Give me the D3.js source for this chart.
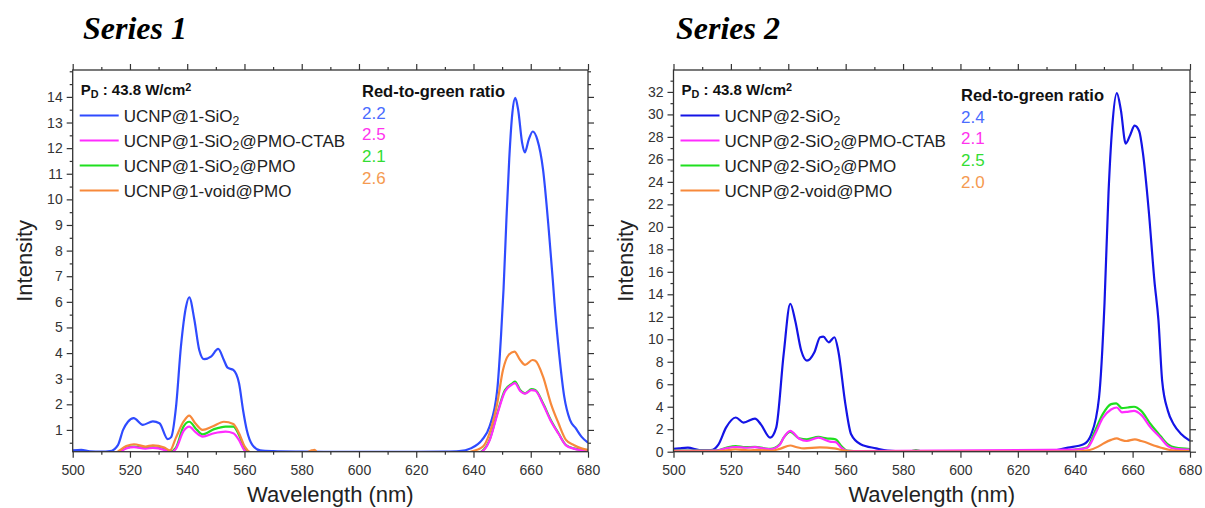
<!DOCTYPE html>
<html><head><meta charset="utf-8">
<script src="https://cdn.jsdelivr.net/npm/d3@7"></script>
<style>
body{margin:0;background:#fff;}
svg{display:block;font-family:"Liberation Sans",Arial,sans-serif;}
</style></head>
<body><svg id="c" width="1205" height="508"></svg>
<script>
// ---------------- DATA ----------------
const xTicks = [500,520,540,560,580,600,620,640,660,680];
const titles = ["Series 1","Series 2"];
const seriesColorsL = ["#2f4bff","#ff2cff","#1fdf1f","#f7893b"];
const seriesColorsR = ["#1414e6","#ff2cff","#1fdf1f","#f7893b"];
const ratioColors = ["#4a6cff","#ff33ee","#33dd33","#f59a50"];

const labels1 = ["UCNP@1-SiO_2","UCNP@1-SiO_2@PMO-CTAB","UCNP@1-SiO_2@PMO","UCNP@1-void@PMO"];
const labels2 = ["UCNP@2-SiO_2","UCNP@2-SiO_2@PMO-CTAB","UCNP@2-SiO_2@PMO","UCNP@2-void@PMO"];
const ratios1 = ["2.2","2.5","2.1","2.6"];
const ratios2 = ["2.4","2.1","2.5","2.0"];
const yTicks1 = [1,2,3,4,5,6,7,8,9,10,11,12,13,14];
const yTicks2 = [0,2,4,6,8,10,12,14,16,18,20,22,24,26,28,30,32];

// Series 1 spectra
const blue1X = [500,503,506,510,513,515.8,517.6,519.3,521.3,524.5,528,530.3,533.2,534.4,536.1,537.8,539.6,540.7,542.5,544.2,545.9,548.3,550.8,552.8,554.1,556.1,558.1,559.5,560.8,562.8,565.5,570,580,590,600,610,620,630,635,639,643,645.6,648.3,649.6,650.5,651.5,652.5,653.6,654.6,655.6,657,657.9,659.3,660.7,662.3,664.3,666.3,667.7,668.3,669.9,671.7,673.7,675.7,677.7,680];
const blue1Y = [0.2,0.22,0.16,0.15,0.17,0.41,1.0,1.32,1.46,1.2,1.33,1.26,0.64,0.72,1.91,4.25,5.82,6.18,5.3,4.12,3.76,3.86,4.16,3.73,3.43,3.34,2.82,1.78,1.0,0.41,0.2,0.17,0.15,0.14,0.14,0.14,0.14,0.15,0.17,0.28,0.61,1.13,2.56,4.64,6.5,9.2,11.6,13.4,13.96,13.5,12.2,11.83,12.33,12.65,12.33,11.16,8.8,6.86,5.95,4.0,2.3,1.39,1.07,0.74,0.5];
const mag1X = [500,515,518.7,521.4,525.4,528,532,534,536,538.7,540.7,543,545.4,549.4,553.4,556.1,558.1,560,562,565,640,643.3,645.6,648.3,651,653.6,654.5,656.3,658,660.3,661.6,664.3,667,669.7,672.3,675,680];
const mag1Y = [0.05,0.06,0.28,0.33,0.27,0.3,0.22,0.12,0.25,0.95,1.13,0.9,0.74,0.87,0.93,0.87,0.6,0.2,0.08,0.05,0.05,0.18,0.58,1.6,2.5,2.78,2.83,2.52,2.42,2.55,2.53,2.0,1.35,0.85,0.4,0.27,0.18];
const green1X = [500,515,518.7,521.4,525.4,528,532,534,536,538.7,540.7,543.4,545.4,549.4,553.4,556.1,558.1,560.1,562,565,640,643.3,645.6,648.3,651,653.6,654.5,656.3,658,660.3,661.6,664.3,667,669.7,672.3,675,680];
const green1Y = [0.05,0.08,0.3,0.35,0.3,0.32,0.25,0.15,0.3,1.13,1.32,1.0,0.83,1.03,1.13,1.13,0.8,0.25,0.1,0.05,0.05,0.2,0.61,1.65,2.56,2.82,2.89,2.56,2.43,2.59,2.56,2.04,1.39,0.87,0.41,0.28,0.2];
const orange1X = [500,510,514.7,518.7,521.4,525.4,528,532,534,536,538.7,540.7,542.8,545.4,548.8,552.8,556.1,558.1,560.1,562.1,565,580,583.5,584.5,586,600,620,635,639,643.3,645.6,648.3,650.3,652.3,654.3,656.3,658,660.6,661.6,664.3,667,669.7,672.3,675,677.7,680];
const orange1Y = [0.05,0.05,0.1,0.37,0.44,0.35,0.4,0.31,0.2,0.68,1.32,1.56,1.26,1.0,1.13,1.32,1.23,0.87,0.35,0.12,0.05,0.05,0.2,0.22,0.05,0.05,0.05,0.1,0.15,0.35,0.87,2.04,3.34,3.93,4.06,3.73,3.54,3.73,3.7,3.08,2.04,1.26,0.61,0.41,0.28,0.22];

// Series 2 spectra
const blue2X = [500,502,505,509,513,515.7,518.3,521.7,524.4,528.4,530.4,533.7,535.8,538.4,540.7,542.4,544.5,546.5,549.1,551.1,552.2,554.1,556.1,557.4,559.9,561.9,565.2,570.6,574.6,580,600,620,630.8,637.5,642.9,645.6,648.3,650.2,651.6,652.9,654.5,655.9,657.6,659.2,660.7,662.3,663.6,665.6,667.6,669,670.3,672.3,674.3,677,680];
const blue2Y = [0.25,0.3,0.36,0.15,0.15,0.66,2.14,3.04,2.59,2.95,2.45,1.25,2.14,8.7,13.16,11.67,9.0,8.1,8.85,10.18,10.23,9.73,10.18,9.0,4.23,1.55,0.66,0.3,0.1,0.05,0.05,0.05,0.05,0.36,0.66,1.55,4.82,13.16,23.0,28.9,31.9,30.4,27.4,28.2,29.0,28.5,26.55,21.5,15.2,11.7,6.3,3.63,2.44,1.55,0.96];
const mag2X = [500,515,518.3,521.7,525,528.4,531.7,533.7,537,538.4,540.7,543.8,546.5,550.5,554.5,556.5,558.5,560.5,565,640.2,644.2,646.9,649.6,652.5,654.5,656.3,658.3,660.5,663,666.3,669.7,672.3,675,680];
const mag2Y = [0.08,0.1,0.3,0.42,0.35,0.4,0.28,0.22,0.6,1.25,1.85,1.15,0.95,1.25,0.9,0.85,0.35,0.08,0.05,0.18,0.35,1.55,3.0,3.75,3.93,3.5,3.55,3.63,3.27,2.14,1.25,0.5,0.25,0.18];
const green2X = [500,515,518.3,521.7,525,528.4,531.7,533.7,537,538.4,540.7,543.8,546.5,550.5,553.2,556.5,558.5,560.5,565,583,584.5,586,600,634.8,640.2,644.2,646.9,649.6,652.5,654.3,656.3,658.3,660.5,663,666.3,669.7,672.3,675,680];
const green2Y = [0.1,0.12,0.35,0.5,0.4,0.43,0.3,0.25,0.66,1.25,1.76,1.19,1.1,1.31,1.19,1.1,0.5,0.1,0.05,0.05,0.15,0.05,0.05,0.05,0.2,0.4,1.85,3.34,4.23,4.3,3.87,3.93,4.0,3.63,2.44,1.4,0.66,0.36,0.24];
const orange2X = [500,515,518,521.5,526,530,534,537,540.7,543,545.5,551,556,558.5,561,565,640,645,648,650,652.5,654.5,656,657.8,660.8,663,665,668,670,673,675,680];
const orange2Y = [0.02,0.03,0.1,0.2,0.12,0.15,0.08,0.25,0.55,0.4,0.3,0.38,0.3,0.15,0.04,0.02,0.02,0.15,0.45,0.75,1.05,1.19,1.05,0.95,1.1,0.95,0.8,0.5,0.35,0.15,0.1,0.05];

// ---------------- DRAW ----------------
const svg = d3.select("#c");
const zipXY = (xs, ys) => xs.map((x,i)=>({x, y: ys[i]}));

const panels = [
  {title: titles[0], tx: 83, left: 72.7, right: 588, top: 70, bottom: 451.7,
   yDomain: [0.15, 15.05], yTicks: yTicks1, yMinorStep: 0.5,
   colors: seriesColorsL, labels: labels1, ratios: ratios1,
   series: [[blue1X,blue1Y],[mag1X,mag1Y],[green1X,green1Y],[orange1X,orange1Y]],
   ratioX: 362, ratioY0: 97},
  {title: titles[1], tx: 676, left: 673.5, right: 1190, top: 70, bottom: 451.7,
   yDomain: [0, 33.95], yTicks: yTicks2, yMinorStep: 1,
   colors: seriesColorsR, labels: labels2, ratios: ratios2,
   series: [[blue2X,blue2Y],[mag2X,mag2Y],[green2X,green2Y],[orange2X,orange2Y]],
   ratioX: 961, ratioY0: 101}
];

function addSubText(sel, str) {
  const parts = str.split(/_(\d)/);
  parts.forEach((p,i)=>{
    if (!p) return;
    if (i % 2 === 1) sel.append("tspan").attr("baseline-shift","-25%").attr("font-size","0.72em").text(p);
    else sel.append("tspan").text(p);
  });
}

panels.forEach((P, pi) => {
  const x = d3.scaleLinear().domain([500, 680]).range([P.left, P.right]);
  const y = d3.scaleLinear().domain(P.yDomain).range([P.bottom, P.top]);
  const g = svg.append("g");

  svg.append("text").attr("x", P.tx).attr("y", 39)
    .attr("font-family","'Liberation Serif','Times New Roman',serif")
    .attr("font-weight","bold").attr("font-style","italic").attr("font-size",32)
    .attr("fill","#000").text(P.title);

  const cid = "clip"+pi;
  svg.append("clipPath").attr("id",cid).append("rect")
    .attr("x",P.left).attr("y",P.top).attr("width",P.right-P.left).attr("height",P.bottom-P.top);

  const minorX = d3.range(510, 680, 20);
  const yMin = Math.ceil(P.yDomain[0]/P.yMinorStep)*P.yMinorStep;
  const minorY = d3.range(yMin, P.yDomain[1], P.yMinorStep).filter(v => !P.yTicks.some(t => Math.abs(t-v)<1e-6));

  const styleAxis = a => { a.select(".domain").remove(); a.selectAll("line").attr("stroke","#333").attr("stroke-width",1.2); a.selectAll("text").attr("fill","#333").attr("font-size",14).attr("font-family","'Liberation Sans',Arial,sans-serif"); };

  g.append("g").attr("transform",`translate(0,${P.bottom})`)
    .call(d3.axisBottom(x).tickValues(xTicks).tickSize(6).tickPadding(7).tickFormat(d3.format("d"))).call(styleAxis);
  g.append("g").attr("transform",`translate(0,${P.bottom})`)
    .call(d3.axisBottom(x).tickValues(minorX).tickSize(3).tickFormat("")).call(styleAxis);
  g.append("g").attr("transform",`translate(0,${P.top})`)
    .call(d3.axisTop(x).tickValues(xTicks).tickSize(6).tickFormat("")).call(styleAxis);
  g.append("g").attr("transform",`translate(0,${P.top})`)
    .call(d3.axisTop(x).tickValues(minorX).tickSize(3).tickFormat("")).call(styleAxis);
  g.append("g").attr("transform",`translate(${P.left},0)`)
    .call(d3.axisLeft(y).tickValues(P.yTicks).tickSize(6).tickPadding(4).tickFormat(d3.format("d"))).call(styleAxis);
  g.append("g").attr("transform",`translate(${P.left},0)`)
    .call(d3.axisLeft(y).tickValues(minorY).tickSize(3).tickFormat("")).call(styleAxis);
  g.append("g").attr("transform",`translate(${P.right},0)`)
    .call(d3.axisRight(y).tickValues(P.yTicks).tickSize(6).tickFormat("")).call(styleAxis);
  g.append("g").attr("transform",`translate(${P.right},0)`)
    .call(d3.axisRight(y).tickValues(minorY).tickSize(3).tickFormat("")).call(styleAxis);

  const line = d3.line().x(d=>x(d.x)).y(d=>y(d.y)).curve(d3.curveMonotoneX);
  [0,2,1,3].forEach(si => {
    const [xs, ys] = P.series[si];
    g.append("path").attr("clip-path",`url(#${cid})`)
      .datum(zipXY(xs, ys)).attr("d", line)
      .attr("fill","none").attr("stroke",P.colors[si]).attr("stroke-width",2.2)
      .attr("stroke-linejoin","round");
  });

  g.append("rect").attr("x",P.left).attr("y",P.top).attr("width",P.right-P.left).attr("height",P.bottom-P.top)
    .attr("fill","none").attr("stroke","#333").attr("stroke-width",1.3);

  svg.append("text").attr("x",(P.left+P.right)/2).attr("y",502).attr("text-anchor","middle")
    .attr("font-size",22).attr("fill","#222").text("Wavelength (nm)");
  svg.append("text").attr("transform",`translate(${P.left-41},${(P.top+P.bottom)/2}) rotate(-90)`)
    .attr("text-anchor","middle").attr("font-size",22).attr("fill","#222").text("Intensity");

  const pd = svg.append("text").attr("x",P.left+8).attr("y",95).attr("font-size",15).attr("font-weight","bold").attr("fill","#111");
  pd.append("tspan").text("P");
  pd.append("tspan").attr("baseline-shift","-30%").attr("font-size","0.72em").text("D");
  pd.append("tspan").text(" : 43.8 W/cm");
  pd.append("tspan").attr("baseline-shift","40%").attr("font-size","0.72em").text("2");

  P.labels.forEach((lab, i) => {
    const ly = 115.5 + i*25;
    svg.append("line").attr("x1",P.left+7).attr("x2",P.left+46).attr("y1",ly).attr("y2",ly)
      .attr("stroke",P.colors[i]).attr("stroke-width",2.2);
    const t = svg.append("text").attr("x",P.left+51).attr("y",ly+6).attr("font-size",17).attr("fill","#222");
    addSubText(t, lab);
  });

  svg.append("text").attr("x",P.ratioX).attr("y",P.ratioY0).attr("font-size",16.5).attr("font-weight","bold").attr("fill","#111").text("Red-to-green ratio");
  P.ratios.forEach((r,i)=>{
    svg.append("text").attr("x",P.ratioX).attr("y",P.ratioY0+21.5+i*21.8).attr("font-size",17).attr("fill",ratioColors[i]).text(r);
  });
});
</script>
</body></html>
